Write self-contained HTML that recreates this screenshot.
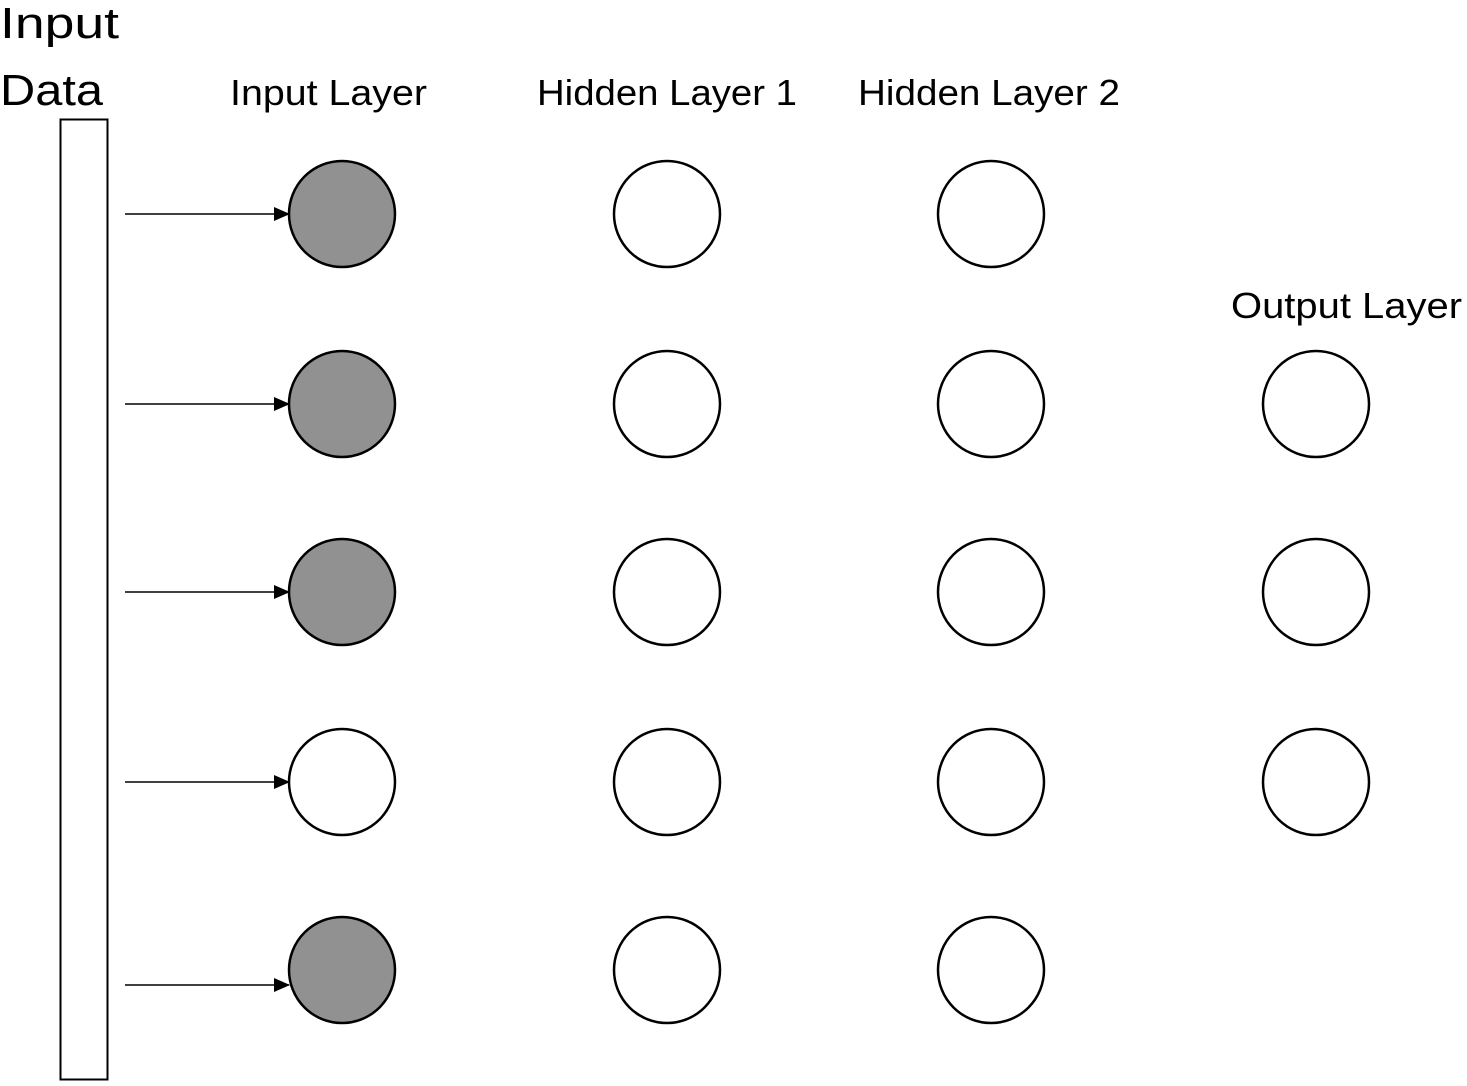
<!DOCTYPE html>
<html>
<head>
<meta charset="utf-8">
<style>
  html, body { margin: 0; padding: 0; background: #fff; }
  svg { display: block; }
  text { font-family: "Liberation Sans", "DejaVu Sans", sans-serif; fill: #000; }
</style>
</head>
<body>
<svg id="chart" width="1467" height="1086" viewBox="0 0 1467 1086" xmlns="http://www.w3.org/2000/svg">
  <defs>
    <marker id="arrowhead" markerWidth="16" markerHeight="14" refX="15" refY="7" orient="auto" markerUnits="userSpaceOnUse">
      <path d="M0,0 L16,7 L0,14 Z" fill="#000"/>
    </marker>
  </defs>
  <text x="0" y="38" font-size="44" textLength="119" lengthAdjust="spacingAndGlyphs">Input</text>
  <text x="0" y="105" font-size="44" textLength="103" lengthAdjust="spacingAndGlyphs">Data</text>
  <rect x="60.5" y="119.5" width="47" height="960" fill="#fff" stroke="#000" stroke-width="2"/>
  <g id="layers"></g>
</svg>
<script>
const layerNames = ["Input Layer", "Hidden Layer 1", "Hidden Layer 2", "Output Layer"];
const layerRows = [[0,1,2,3,4],[0,1,2,3,4],[0,1,2,3,4],[1,2,3]];
const inputFilled = [true, true, true, false, true];
const arrowRows = [0,1,2,3,4];

const colX = [342, 667, 991, 1316];
const rowY = [214, 404, 592, 782, 970];
const arrowY = [214, 404, 592, 782, 985];
const labelPos = [[230,105,197],[537,105,260],[858,105,262],[1231,318,231]];
const R = 53;
const NS = "http://www.w3.org/2000/svg";
const g = document.getElementById("layers");

layerNames.forEach((name, li) => {
  const t = document.createElementNS(NS, "text");
  t.setAttribute("x", labelPos[li][0]);
  t.setAttribute("y", labelPos[li][1]);
  t.setAttribute("font-size", "36");
  t.setAttribute("textLength", labelPos[li][2]);
  t.setAttribute("lengthAdjust", "spacingAndGlyphs");
  t.textContent = name;
  
  
  g.appendChild(t);
  layerRows[li].forEach((r) => {
    const c = document.createElementNS(NS, "circle");
    c.setAttribute("cx", colX[li]);
    c.setAttribute("cy", rowY[r]);
    c.setAttribute("r", R);
    const filled = li === 0 && inputFilled[r];
    c.setAttribute("fill", filled ? "#919191" : "#fff");
    c.setAttribute("stroke", "#000");
    c.setAttribute("stroke-width", "2.5");
    
    
    g.appendChild(c);
  });
});

arrowRows.forEach((r) => {
  const l = document.createElementNS(NS, "line");
  l.setAttribute("x1", 125);
  l.setAttribute("y1", arrowY[r]);
  l.setAttribute("x2", 289);
  l.setAttribute("y2", arrowY[r]);
  l.setAttribute("stroke", "#000");
  l.setAttribute("stroke-width", "1.5");
  l.setAttribute("marker-end", "url(#arrowhead)");
  
  
  g.appendChild(l);
});
</script>
</body>
</html>
